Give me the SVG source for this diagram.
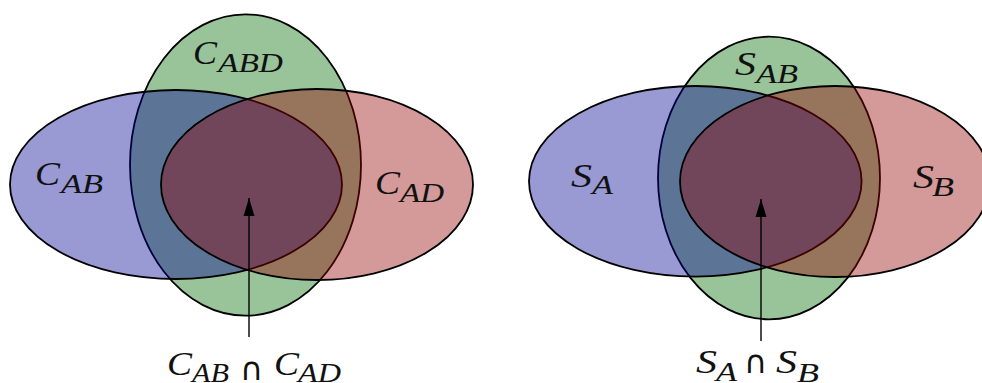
<svg xmlns="http://www.w3.org/2000/svg" width="982" height="383" viewBox="0 0 982 383">
<style>
.set{stroke:#000;stroke-width:1.8;fill-opacity:0.4}
.g{fill:#006b00}.b{fill:#000093}.r{fill:#930000}
.m{font-family:"Liberation Serif","DejaVu Serif",serif;font-style:italic;fill:#111}
.mn{font-size:34px}.sb{font-size:27px}
.op{font-family:"DejaVu Sans","Liberation Sans",sans-serif;font-size:32px;fill:#111}
.conn{stroke:#000;stroke-width:1.4;fill:none}
</style>
<defs>
<marker id="ah" markerUnits="userSpaceOnUse" markerWidth="18" markerHeight="12" refX="18" refY="6" orient="auto">
<path d="M0,0.5 L18,6 L0,11.5 z" fill="#000"/>
</marker>
</defs>
<rect width="982" height="383" fill="#fff"/>
<!-- left diagram -->
<g id="C_ABD">
<ellipse class="set g" cx="245.5" cy="165" rx="115.5" ry="150.7"/>
<text class="m mn" x="193" y="64" textLength="24" lengthAdjust="spacingAndGlyphs">C</text>
<text class="m sb" x="218" y="72" textLength="65" lengthAdjust="spacingAndGlyphs">ABD</text>
</g>
<g id="C_AB">
<ellipse class="set b" cx="176" cy="184.5" rx="166" ry="94.5"/>
<text class="m mn" x="35" y="185" textLength="25" lengthAdjust="spacingAndGlyphs">C</text>
<text class="m sb" x="61" y="193" textLength="42" lengthAdjust="spacingAndGlyphs">AB</text>
</g>
<g id="C_AD">
<ellipse class="set r" cx="317" cy="184.5" rx="156" ry="95.5"/>
<text class="m mn" x="375" y="194" textLength="25" lengthAdjust="spacingAndGlyphs">C</text>
<text class="m sb" x="400" y="202" textLength="44" lengthAdjust="spacingAndGlyphs">AD</text>
</g>
<g id="C_AB_cap_C_AD">
<text class="m mn" x="167" y="375" textLength="25" lengthAdjust="spacingAndGlyphs">C</text>
<text class="m sb" x="192" y="382" textLength="37" lengthAdjust="spacingAndGlyphs">AB</text>
<text class="op" x="240" y="380">∩</text>
<text class="m mn" x="274" y="375" textLength="25" lengthAdjust="spacingAndGlyphs">C</text>
<text class="m sb" x="298" y="382" textLength="43" lengthAdjust="spacingAndGlyphs">AD</text>
</g>
<!-- right diagram -->
<g id="S_AB">
<ellipse class="set g" cx="769" cy="178" rx="111" ry="141.3"/>
<text class="m mn" x="735" y="75" textLength="21" lengthAdjust="spacingAndGlyphs">S</text>
<text class="m sb" x="756" y="83" textLength="42" lengthAdjust="spacingAndGlyphs">AB</text>
</g>
<g id="S_A">
<ellipse class="set b" cx="695.3" cy="181.3" rx="166.3" ry="95.3"/>
<text class="m mn" x="571" y="187" textLength="21" lengthAdjust="spacingAndGlyphs">S</text>
<text class="m sb" x="592" y="194" textLength="21" lengthAdjust="spacingAndGlyphs">A</text>
</g>
<g id="S_B">
<ellipse class="set r" cx="835" cy="181.5" rx="155" ry="95.5"/>
<text class="m mn" x="913" y="188" textLength="21" lengthAdjust="spacingAndGlyphs">S</text>
<text class="m sb" x="932" y="196" textLength="22" lengthAdjust="spacingAndGlyphs">B</text>
</g>
<g id="S_A_cap_S_B">
<text class="m mn" x="696" y="373" textLength="21" lengthAdjust="spacingAndGlyphs">S</text>
<text class="m sb" x="716" y="381" textLength="21" lengthAdjust="spacingAndGlyphs">A</text>
<text class="op" x="744" y="373">∩</text>
<text class="m mn" x="776" y="373" textLength="21" lengthAdjust="spacingAndGlyphs">S</text>
<text class="m sb" x="797" y="382" textLength="22" lengthAdjust="spacingAndGlyphs">B</text>
</g>
<g id="connectors">
<line class="conn" x1="249" y1="337" x2="249" y2="198" marker-end="url(#ah)"/>
<line class="conn" x1="761" y1="341" x2="761" y2="199" marker-end="url(#ah)"/>
</g>
</svg>
